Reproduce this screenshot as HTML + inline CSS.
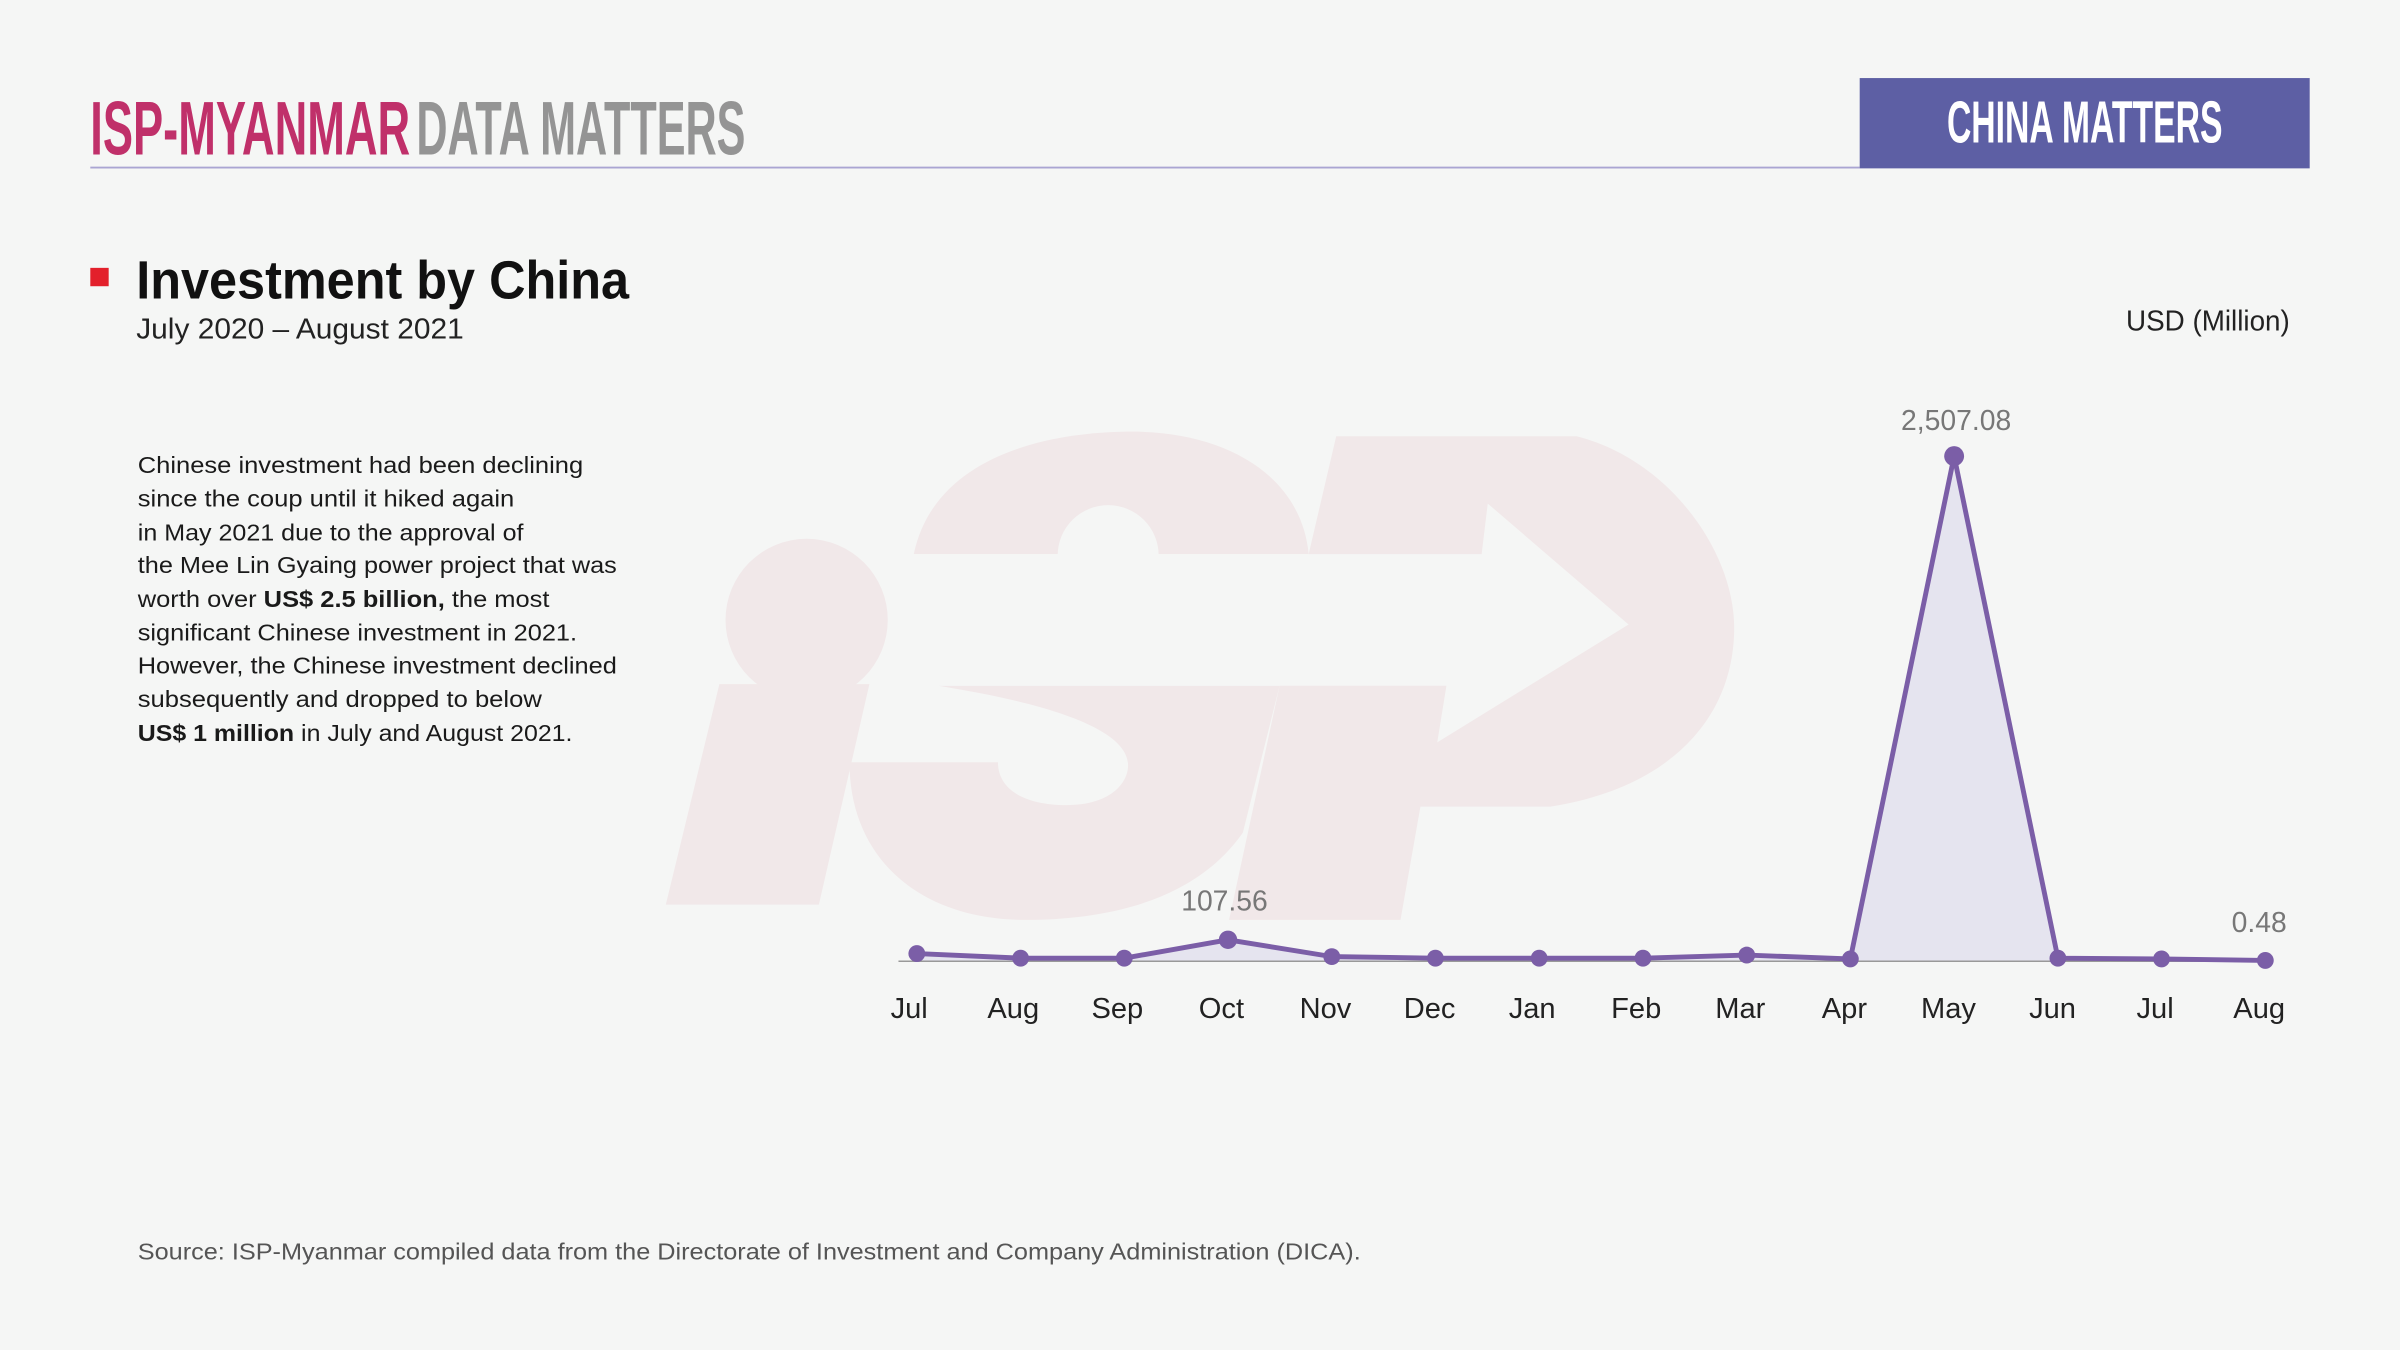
<!DOCTYPE html>
<html><head><meta charset="utf-8"><style>
html,body{margin:0;padding:0;background:#f5f6f5;}
svg{display:block;}
text{font-family:"Liberation Sans",sans-serif;}
</style></head><body>
<svg width="2400" height="1350" viewBox="0 0 1568 882" xmlns="http://www.w3.org/2000/svg">
<rect width="1568" height="882" fill="#f5f6f5"/>
<!-- watermark -->
<g fill="#f1e8e9">
<path d="M597,362 C610,300 680,282 740,282 C800,282 850,310 855,362 Z"/>
<path d="M613,448 L836,448 L812,544 C780,590 720,601 670,601 C600,601 555,560 555,498 L652,498 C652,515 668,526 697,526 C725,526 737,512 737,500 C737,480 700,462 613,448 Z"/>
<path d="M873,285 L1030,285 C1090,300 1133,360 1133,410 C1133,470 1090,515 1013,527 L928,527 L915,601 L803,601 L836,448 L855,362 Z"/>
</g>
<circle cx="724" cy="363" r="33" fill="#f5f6f5"/>
<path d="M590,362 L968,362 L972,329 L1064,408 L939,485 L945,448 L590,448 Z" fill="#f5f6f5"/>
<g fill="#f1e8e9">
<circle cx="527" cy="405" r="53"/>
<path d="M435,591 L535,591 L568,447 L470,447 Z"/>
</g>
<!-- header -->
<text x="59" y="101" font-size="50" font-weight="bold" fill="#c0306a" textLength="209" lengthAdjust="spacingAndGlyphs">ISP-MYANMAR</text>
<text x="272" y="101" font-size="50" font-weight="bold" fill="#949494" textLength="215" lengthAdjust="spacingAndGlyphs">DATA MATTERS</text>
<line x1="59" y1="109.5" x2="1215" y2="109.5" stroke="#aaa5d2" stroke-width="1.2"/>
<rect x="1215" y="51" width="294" height="59" fill="#5d5fa4"/>
<text x="1272" y="93" font-size="39" font-weight="bold" fill="#ffffff" textLength="180" lengthAdjust="spacingAndGlyphs">CHINA MATTERS</text>
<!-- titles -->
<rect x="59" y="175" width="12" height="12" fill="#e3202b"/>
<text x="89" y="195" font-size="35" font-weight="bold" fill="#111" textLength="322" lengthAdjust="spacingAndGlyphs">Investment by China</text>
<text x="89" y="221" font-size="19" fill="#222" textLength="214" lengthAdjust="spacingAndGlyphs">July 2020 – August 2021</text>
<text x="1389" y="216" font-size="19" fill="#222" textLength="107" lengthAdjust="spacingAndGlyphs">USD (Million)</text>
<!-- paragraph -->
<g font-size="15" fill="#1a1a1a">
<text x="90" y="309" textLength="291" lengthAdjust="spacingAndGlyphs">Chinese investment had been declining</text>
<text x="90" y="331" textLength="246" lengthAdjust="spacingAndGlyphs">since the coup until it hiked again</text>
<text x="90" y="353" textLength="252" lengthAdjust="spacingAndGlyphs">in May 2021 due to the approval of</text>
<text x="90" y="374.5" textLength="313" lengthAdjust="spacingAndGlyphs">the Mee Lin Gyaing power project that was</text>
<text x="90" y="396.5" textLength="269" lengthAdjust="spacingAndGlyphs">worth over <tspan font-weight="bold">US$ 2.5 billion,</tspan> the most</text>
<text x="90" y="418.5" textLength="287" lengthAdjust="spacingAndGlyphs">significant Chinese investment in 2021.</text>
<text x="90" y="440" textLength="313" lengthAdjust="spacingAndGlyphs">However, the Chinese investment declined</text>
<text x="90" y="462" textLength="264" lengthAdjust="spacingAndGlyphs">subsequently and dropped to below</text>
<text x="90" y="484" textLength="284" lengthAdjust="spacingAndGlyphs"><tspan font-weight="bold">US$ 1 million</tspan> in July and August 2021.</text>
</g>
<text x="90" y="823" font-size="15" fill="#555" textLength="799" lengthAdjust="spacingAndGlyphs">Source: ISP-Myanmar compiled data from the Directorate of Investment and Company Administration (DICA).</text>
<!-- chart -->
<polygon fill="#e5e4ef" points="599,628 599,623 666.8,626 734.5,626 802.3,614 870.1,625 937.8,626 1005.6,626 1073.4,626 1141.2,624 1208.9,626.5 1276.7,298 1344.5,626 1412.2,626.5 1480,627.5 1480,628"/>
<line x1="587" y1="628" x2="1483" y2="628" stroke="#999" stroke-width="1"/>
<polyline fill="none" stroke="#7b5ea7" stroke-width="3.2" stroke-linejoin="round" points="599,623 666.8,626 734.5,626 802.3,614 870.1,625 937.8,626 1005.6,626 1073.4,626 1141.2,624 1208.9,626.5 1276.7,298 1344.5,626 1412.2,626.5 1480,627.5"/>
<g fill="#7b5ea7">
<circle cx="599" cy="623" r="5.5"/><circle cx="666.8" cy="626" r="5.5"/><circle cx="734.5" cy="626" r="5.5"/><circle cx="802.3" cy="614" r="6"/><circle cx="870.1" cy="625" r="5.5"/><circle cx="937.8" cy="626" r="5.5"/><circle cx="1005.6" cy="626" r="5.5"/><circle cx="1073.4" cy="626" r="5.5"/><circle cx="1141.2" cy="624" r="5.5"/><circle cx="1208.9" cy="626.5" r="5.5"/><circle cx="1276.7" cy="298" r="6.5"/><circle cx="1344.5" cy="626" r="5.5"/><circle cx="1412.2" cy="626.5" r="5.5"/><circle cx="1480" cy="627.5" r="5.5"/>
</g>
<g font-size="18.5" fill="#777" text-anchor="middle">
<text x="1278" y="281">2,507.08</text>
<text x="800" y="595">107.56</text>
<text x="1476" y="609">0.48</text>
</g>
<g font-size="19" fill="#222" text-anchor="middle">
<text x="594" y="665">Jul</text><text x="662" y="665">Aug</text><text x="730" y="665">Sep</text><text x="798" y="665">Oct</text><text x="866" y="665">Nov</text><text x="934" y="665">Dec</text><text x="1001" y="665">Jan</text><text x="1069" y="665">Feb</text><text x="1137" y="665">Mar</text><text x="1205" y="665">Apr</text><text x="1273" y="665">May</text><text x="1341" y="665">Jun</text><text x="1408" y="665">Jul</text><text x="1476" y="665">Aug</text>
</g>
</svg>
</body></html>
